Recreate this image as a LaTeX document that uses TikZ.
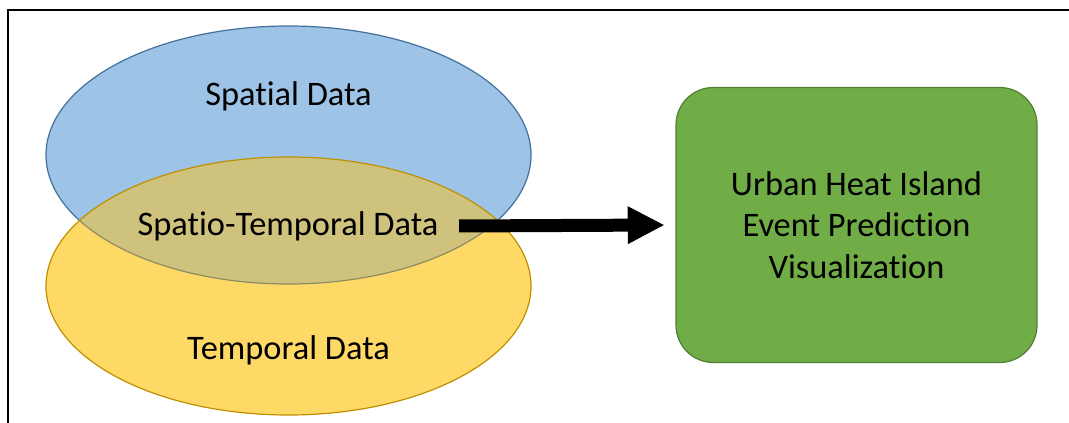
\documentclass[tikz,border=0pt]{standalone}
\usepackage{fontspec}
\setmainfont{Carlito}[Ligatures=NoCommon]
\usepackage{tikz}
\usetikzlibrary{positioning,arrows.meta,calc,shapes.geometric}
\usepackage{xcolor}
\definecolor{spblue}{HTML}{9DC3E6}
\definecolor{spblueline}{HTML}{41719C}
\definecolor{tmyellow}{HTML}{FFD966}
\definecolor{tmyellowline}{HTML}{BF9000}
\definecolor{stolive}{RGB}{207,194,124}
\definecolor{stoliveline}{RGB}{140,140,100}
\definecolor{uhigreen}{HTML}{70AD47}
\definecolor{uhigreenline}{HTML}{507E32}

\begin{document}
\begin{tikzpicture}[x=0.75pt,y=-0.75pt,>={Triangle[length=27.75pt,width=26.25pt]},
  every node/.style={font=\fontsize{25.8}{31}\selectfont},
  blob/.style={ellipse,minimum width=363.75pt,minimum height=193.5pt,inner sep=0pt}]
\useasboundingbox (0,0) rectangle (1069,423);
% frame, only top and left edges
\draw[line width=1.5pt] (8,423) -- (8,10) -- (1069,10);
% the two data sets
\node[blob,fill=spblue,draw=spblueline,line width=0.9pt] (spatial) at (288.5,155) {};
\node[blob,fill=tmyellow] (temporal) at (288.5,286) {};
\begin{scope}
  \clip (288.5,286) ellipse [x radius=181.875pt,y radius=96.75pt];
  \fill[stolive] (288.5,155) ellipse [x radius=181.875pt,y radius=96.75pt];
  \draw[stoliveline,line width=0.9pt] (288.5,155) ellipse [x radius=181.875pt,y radius=96.75pt];
\end{scope}
\draw[tmyellowline,line width=0.9pt] (288.5,286) ellipse [x radius=181.875pt,y radius=96.75pt];
\node (sp) at (288.5,96) {Spatial Data};
\node (tm) at (288.5,350) {Temporal Data};
\node (st) at (288,226) {Spatio-Temporal Data};
% output box
\node[draw=uhigreenline,fill=uhigreen,line width=0.9pt,rounded corners=28pt,
  minimum width=270.75pt,minimum height=206.25pt,align=center] (uhi) at (856.5,225)
  {Urban Heat Island\\Event Prediction\\Visualization};
\draw[->,line width=9.75pt] ([xshift=12pt]st.east) -- ([xshift=-8pt]uhi.west);
\end{tikzpicture}
\end{document}
